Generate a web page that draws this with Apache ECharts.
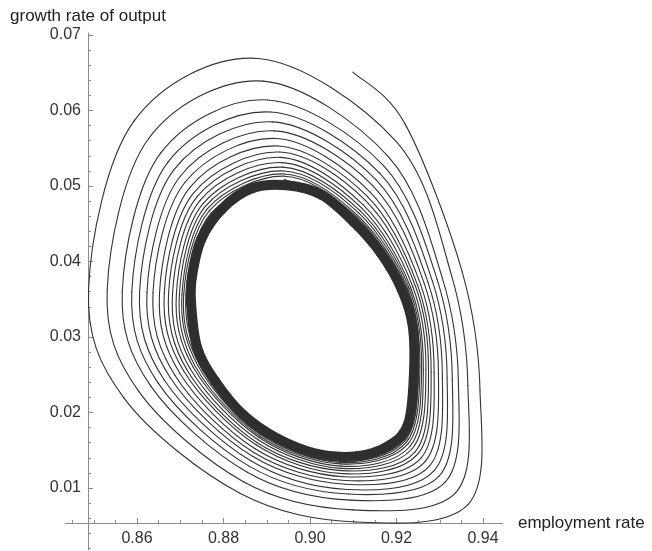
<!DOCTYPE html>
<html>
<head>
<meta charset="utf-8">
<script src="https://cdn.jsdelivr.net/npm/echarts@6/dist/echarts.min.js"></script>
<style>
  html, body { margin: 0; padding: 0; background: #ffffff; }
  #chart { width: 652px; height: 551px; }
</style>
</head>
<body>
<div id="chart"></div>
<script>
// Phase portrait: employment rate vs growth rate of output.
// The trajectory spirals inward onto a limit cycle.

const xLabel = 'employment rate';
const yLabel = 'growth rate of output';

// tick positions
const xMajorTicks = [0.86, 0.88, 0.90, 0.92, 0.94];
const xMinorTicks = [0.845, 0.85, 0.855, 0.865, 0.87, 0.875, 0.885, 0.89, 0.895,
  0.905, 0.91, 0.915, 0.925, 0.93, 0.935];
const yMajorTicks = [0.01, 0.02, 0.03, 0.04, 0.05, 0.06, 0.07];
const yMinorTicks = [0.002, 0.004, 0.006, 0.008, 0.012, 0.014, 0.016, 0.018,
  0.022, 0.024, 0.026, 0.028, 0.032, 0.034, 0.036, 0.038, 0.042, 0.044, 0.046,
  0.048, 0.052, 0.054, 0.056, 0.058, 0.062, 0.064, 0.066, 0.068];

// first point of the trajectory
const startPoint = [0.9099, 0.0651];

// successive passes of the trajectory, one entry per revolution, grouped by
// where on the orbit they lie (going clockwise from the upper right)
const upperRightPts = [[0.9220,0.0582],[0.9199,0.0559],[0.9181,0.0539],[0.9170,0.0527],[0.9161,0.0517],[0.9153,0.0508],[0.9146,0.0500],[0.9139,0.0492],[0.9133,0.0486],[0.9128,0.0481],[0.9123,0.0475],[0.9119,0.0471],[0.9116,0.0467],[0.9113,0.0464],[0.9110,0.0461],[0.9108,0.0459]];
const rightUpperPts = [[0.9352,0.0386],[0.9327,0.0382],[0.9306,0.0378],[0.9294,0.0376],[0.9283,0.0374],[0.9273,0.0372],[0.9264,0.0371],[0.9256,0.0369],[0.9249,0.0368],[0.9244,0.0367],[0.9238,0.0366],[0.9233,0.0365],[0.9229,0.0365],[0.9226,0.0364],[0.9223,0.0364],[0.9220,0.0363]];
const rightPts = [[0.9393,0.0230],[0.9365,0.0236],[0.9343,0.0241],[0.9329,0.0244],[0.9317,0.0246],[0.9306,0.0249],[0.9297,0.0251],[0.9287,0.0253],[0.9280,0.0254],[0.9274,0.0256],[0.9268,0.0257],[0.9262,0.0258],[0.9258,0.0259],[0.9254,0.0260],[0.9251,0.0261],[0.9248,0.0261]];
const lowerRightPts = [[0.9365,0.0078],[0.9337,0.0094],[0.9313,0.0108],[0.9299,0.0116],[0.9287,0.0123],[0.9276,0.0129],[0.9266,0.0135],[0.9257,0.0140],[0.9249,0.0145],[0.9243,0.0148],[0.9236,0.0152],[0.9231,0.0155],[0.9226,0.0158],[0.9222,0.0160],[0.9219,0.0162],[0.9216,0.0163]];
const bottomPts = [[0.9107,0.0055],[0.9099,0.0071],[0.9093,0.0084],[0.9089,0.0092],[0.9086,0.0098],[0.9083,0.0105],[0.9081,0.0110],[0.9078,0.0115],[0.9076,0.0119],[0.9074,0.0123],[0.9073,0.0126],[0.9071,0.0129],[0.9070,0.0132],[0.9069,0.0134],[0.9068,0.0136],[0.9067,0.0138]];
const lowerLeftPts = [[0.8838,0.0093],[0.8847,0.0108],[0.8855,0.0121],[0.8859,0.0129],[0.8863,0.0136],[0.8867,0.0142],[0.8870,0.0147],[0.8873,0.0152],[0.8876,0.0157],[0.8878,0.0160],[0.8880,0.0164],[0.8882,0.0167],[0.8883,0.0169],[0.8884,0.0171],[0.8885,0.0173],[0.8886,0.0175]];
const leftLowerPts = [[0.8570,0.0219],[0.8604,0.0228],[0.8632,0.0235],[0.8649,0.0239],[0.8663,0.0243],[0.8677,0.0246],[0.8688,0.0249],[0.8699,0.0252],[0.8708,0.0255],[0.8716,0.0256],[0.8723,0.0258],[0.8730,0.0260],[0.8735,0.0261],[0.8740,0.0263],[0.8744,0.0264],[0.8748,0.0265]];
const leftPts = [[0.8488,0.0363],[0.8531,0.0362],[0.8566,0.0361],[0.8588,0.0360],[0.8606,0.0360],[0.8623,0.0359],[0.8637,0.0359],[0.8652,0.0358],[0.8663,0.0358],[0.8673,0.0358],[0.8682,0.0357],[0.8691,0.0357],[0.8698,0.0357],[0.8704,0.0357],[0.8708,0.0356],[0.8713,0.0356]];
const upperLeftPts = [[0.8593,0.0586],[0.8627,0.0563],[0.8655,0.0544],[0.8672,0.0532],[0.8686,0.0522],[0.8700,0.0513],[0.8711,0.0505],[0.8722,0.0498],[0.8731,0.0491],[0.8739,0.0486],[0.8746,0.0481],[0.8753,0.0477],[0.8758,0.0473],[0.8763,0.0470],[0.8767,0.0467],[0.8771,0.0464]];
const topPts = [[0.8880,0.0669],[0.8892,0.0639],[0.8902,0.0614],[0.8908,0.0598],[0.8913,0.0585],[0.8918,0.0573],[0.8922,0.0563],[0.8926,0.0553],[0.8930,0.0545],[0.8932,0.0538],[0.8935,0.0531],[0.8937,0.0525],[0.8939,0.0520],[0.8941,0.0516],[0.8942,0.0513],[0.8944,0.0509]];

// the limit cycle the orbit settles on (dense band)
const limitCycle = [[0.8947,0.0501],[0.9028,0.0488],[0.9102,0.0452],[0.9164,0.0411],
  [0.9213,0.0362],[0.9238,0.0313],[0.9240,0.0247],[0.9227,0.0185],[0.9185,0.0157],
  [0.9109,0.0142],[0.9018,0.0145],[0.8926,0.0165],[0.8845,0.0197],[0.8780,0.0242],
  [0.8739,0.0286],[0.8725,0.0345],[0.8727,0.0380],[0.8748,0.0429],[0.8797,0.0470],
  [0.8866,0.0497]];

// trajectory in time order
const orbitPath = [startPoint];
for (let i = 0; i < topPts.length; i++) {
  orbitPath.push(upperRightPts[i], rightUpperPts[i], rightPts[i], lowerRightPts[i],
    bottomPts[i], lowerLeftPts[i], leftLowerPts[i], leftPts[i], upperLeftPts[i], topPts[i]);
}

const FONT = '"Liberation Sans", Arial, Helvetica, sans-serif';
const AXIS_COLOR = '#8c8c8c';
const LABEL_COLOR = '#333333';
const LINE_COLOR = '#333333';

const xRange = { min: 0.84335, max: 0.94462 };
const yRange = { min: 0.00179, max: 0.07027 };

// Smooth curve through the points (Catmull-Rom segments as cubic Beziers),
// positioned through the cartesian axes.
function curveRenderer(points, closed, style) {
  return function (params, api) {
    if (params.dataIndex !== 0) return null;
    const px = points.map(p => api.coord(p));
    const n = px.length;
    const at = i => {
      if (closed) return px[(i + n) % n];
      return px[Math.max(0, Math.min(n - 1, i))];
    };
    const segCount = closed ? n : n - 1;
    const children = [];
    for (let i = 0; i < segCount; i++) {
      const p0 = at(i - 1), p1 = at(i), p2 = at(i + 1), p3 = at(i + 2);
      children.push({
        type: 'bezierCurve',
        shape: {
          x1: p1[0], y1: p1[1], x2: p2[0], y2: p2[1],
          cpx1: p1[0] + (p2[0] - p0[0]) / 6, cpy1: p1[1] + (p2[1] - p0[1]) / 6,
          cpx2: p2[0] - (p3[0] - p1[0]) / 6, cpy2: p2[1] - (p3[1] - p1[1]) / 6
        },
        style: Object.assign({ fill: null, lineCap: 'round', lineJoin: 'round' }, style)
      });
    }
    return { type: 'group', children };
  };
}

const chart = echarts.init(document.getElementById('chart'), null, { renderer: 'canvas' });

chart.setOption({
  animation: false,
  backgroundColor: '#ffffff',
  grid: { left: 65, right: 149, top: 33, bottom: 1, containLabel: false, outerBoundsMode: 'none' },
  xAxis: [
    {
      type: 'value', min: xRange.min, max: xRange.max, position: 'bottom', offset: -27,
      name: xLabel, nameLocation: 'end', nameGap: 15,
      nameTextStyle: { color: '#222222', fontSize: 17, fontFamily: FONT, verticalAlign: 'middle' },
      axisLine: { show: true, onZero: false, lineStyle: { color: AXIS_COLOR, width: 1 } },
      axisTick: { show: true, inside: true, length: 5, customValues: xMajorTicks, lineStyle: { color: AXIS_COLOR } },
      axisLabel: {
        show: true, margin: 8, customValues: xMajorTicks, color: LABEL_COLOR, fontSize: 16, fontFamily: FONT,
        formatter: v => v.toFixed(2)
      },
      splitLine: { show: false }
    },
    {
      type: 'value', min: xRange.min, max: xRange.max, position: 'bottom', offset: -27,
      axisLine: { show: false, onZero: false },
      axisTick: { show: true, inside: true, length: 3, customValues: xMinorTicks, lineStyle: { color: AXIS_COLOR } },
      axisLabel: { show: false },
      splitLine: { show: false }
    }
  ],
  yAxis: [
    {
      type: 'value', min: yRange.min, max: yRange.max, position: 'left', offset: -23,
      name: yLabel, nameLocation: 'end', nameGap: 8,
      nameTextStyle: { color: '#222222', fontSize: 17, fontFamily: FONT },
      axisLine: { show: true, onZero: false, lineStyle: { color: AXIS_COLOR, width: 1 } },
      axisTick: { show: true, inside: true, length: 5, customValues: yMajorTicks, lineStyle: { color: AXIS_COLOR } },
      axisLabel: {
        show: true, margin: 7, customValues: yMajorTicks, color: LABEL_COLOR, fontSize: 16, fontFamily: FONT,
        formatter: v => v.toFixed(2)
      },
      splitLine: { show: false }
    },
    {
      type: 'value', min: yRange.min, max: yRange.max, position: 'left', offset: -23,
      axisLine: { show: false, onZero: false },
      axisTick: { show: true, inside: true, length: 3, customValues: yMinorTicks, lineStyle: { color: AXIS_COLOR } },
      axisLabel: { show: false },
      splitLine: { show: false }
    }
  ],
  series: [
    {
      name: 'limit cycle', type: 'custom', coordinateSystem: 'cartesian2d',
      data: limitCycle, encode: { x: 0, y: 1 },
      renderItem: curveRenderer(limitCycle, true, { stroke: '#2e2e2e', lineWidth: 10 }),
      z: 2
    },
    {
      name: 'trajectory', type: 'custom', coordinateSystem: 'cartesian2d',
      data: orbitPath, encode: { x: 0, y: 1 },
      renderItem: curveRenderer(orbitPath, false, { stroke: LINE_COLOR, lineWidth: 1.1 }),
      z: 3
    }
  ]
});
</script>
</body>
</html>
